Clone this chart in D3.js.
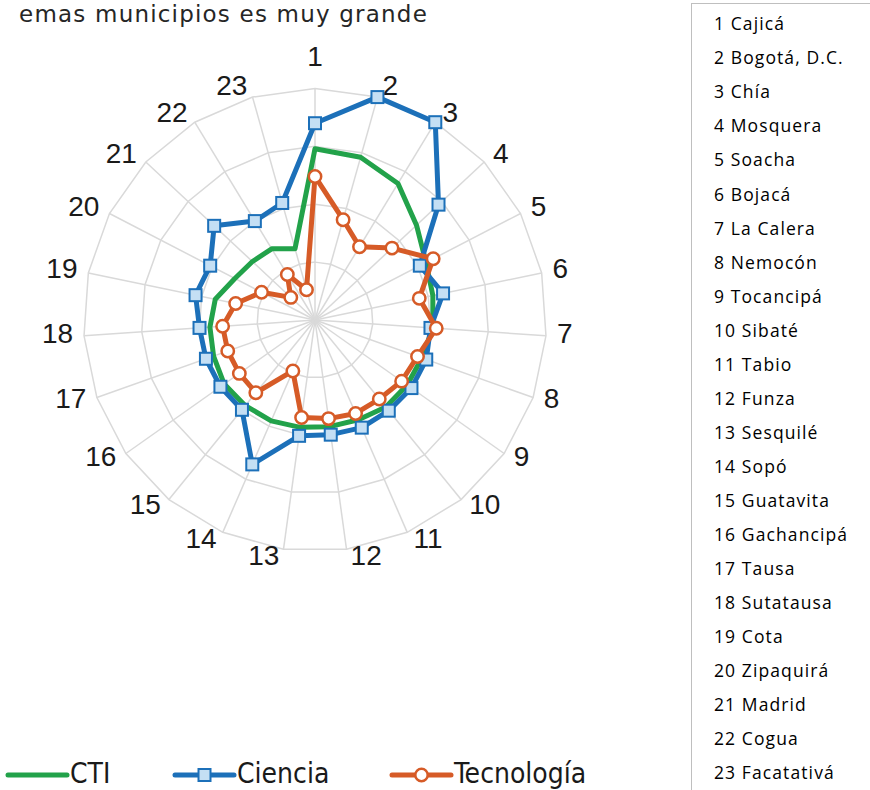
<!DOCTYPE html>
<html>
<head>
<meta charset="utf-8">
<script src="https://cdn.jsdelivr.net/npm/d3@7"></script>
<style>
  html, body { margin: 0; padding: 0; background: #fff; }
  svg { display: block; }
</style>
</head>
<body>
<svg id="chart" width="870" height="790"></svg>
<script>
// ---- data ----
const categories = ["Cajicá", "Bogotá, D.C.", "Chía", "Mosquera", "Soacha", "Bojacá", "La Calera",
  "Nemocón", "Tocancipá", "Sibaté", "Tabio", "Funza", "Sesquilé", "Sopó", "Guatavita",
  "Gachancipá", "Tausa", "Sutatausa", "Cota", "Zipaquirá", "Madrid", "Cogua", "Facatativá"];
const axisLabels = categories.map((d, i) => String(i + 1));
const seriesNames = ["CTI", "Ciencia", "Tecnología"];
const cti = [0.74, 0.73, 0.69, 0.60, 0.54, 0.52, 0.51, 0.49, 0.487, 0.485, 0.47, 0.465,
  0.468, 0.475, 0.477, 0.48, 0.465, 0.455, 0.44, 0.39, 0.37, 0.36, 0.32];
const ciencia = [0.85, 1.0, 1.0, 0.73, 0.51, 0.565, 0.50, 0.51, 0.51, 0.505, 0.507, 0.50,
  0.505, 0.68, 0.50, 0.50, 0.50, 0.50, 0.527, 0.51, 0.596, 0.50, 0.525];
const tecnologia = [0.62, 0.45, 0.37, 0.455, 0.575, 0.46, 0.525, 0.47, 0.458, 0.44, 0.44, 0.43,
  0.425, 0.24, 0.405, 0.40, 0.40, 0.40, 0.35, 0.26, 0.143, 0.23, 0.136];
const ringTicks = [0.25, 0.5, 0.75, 1.0];
const titleText = "emas municipios es muy grande";

// ---- layout ----
const svg = d3.select("#chart");
const cx = 315, cy = 320, R = 231.5;
const n = categories.length;
const r = d3.scaleLinear().domain([0, 1]).range([0, R]);
const angle = d3.scaleLinear().domain([0, n]).range([0, 2 * Math.PI]);
const pt = (i, v) => [cx + r(v) * Math.sin(angle(i)), cy - r(v) * Math.cos(angle(i))];

const colors = { cti: "#22a24a", ciencia: "#1c70b9", tec: "#d65b27", sqFill: "#c4dff4" };
const narrow = "'Liberation Sans Narrow', 'DejaVu Sans Condensed', 'Liberation Sans', sans-serif";

// title (partially visible in the original)
svg.append("text")
  .attr("x", 428).attr("y", 22)
  .attr("text-anchor", "end")
  .attr("font-family", "'DejaVu Sans', sans-serif")
  .attr("font-size", 23)
  .attr("letter-spacing", 1.2)
  .attr("fill", "#262626")
  .text(titleText);

// grid rings (polygons)
const g = svg.append("g");
ringTicks.forEach(t => {
  const pts = d3.range(n).map(i => pt(i, t));
  g.append("polygon")
    .attr("points", pts.map(p => p.join(",")).join(" "))
    .attr("fill", "none").attr("stroke", "#d9d9d9").attr("stroke-width", 1.5);
});
// spokes
d3.range(n).forEach(i => {
  const p = pt(i, 1);
  g.append("line").attr("x1", cx).attr("y1", cy).attr("x2", p[0]).attr("y2", p[1])
    .attr("stroke", "#d9d9d9").attr("stroke-width", 1.5);
});

// axis labels
axisLabels.forEach((lab, i) => {
  const a = angle(i), s = Math.sin(a), c = Math.cos(a);
  const p = pt(i, 1);
  let x, y, anchor;
  if (Math.abs(s) < 0.05) {
    anchor = "middle"; x = p[0]; y = p[1] - 33;
  } else {
    anchor = s > 0 ? "start" : "end";
    x = p[0] + Math.sign(s) * (3 + 8 * Math.abs(s));
    y = p[1] - 3 - 9 * c;
  }
  svg.append("text")
    .attr("x", x).attr("y", y).attr("dy", "0.36em")
    .attr("text-anchor", anchor)
    .attr("font-family", "'Liberation Sans', Arial, sans-serif")
    .attr("font-size", 28)
    .attr("fill", "#1a1a1a")
    .text(lab);
});

// series
const radial = d3.lineRadial()
  .angle((d, i) => angle(i))
  .radius(d => r(d))
  .curve(d3.curveLinearClosed);

function drawSeries(values, color, marker) {
  const sg = svg.append("g").attr("transform", `translate(${cx},${cy})`);
  sg.append("path").attr("d", radial(values))
    .attr("fill", "none").attr("stroke", color).attr("stroke-width", 5)
    .attr("stroke-linejoin", "round");
  if (marker === "square") {
    sg.selectAll("rect").data(values).join("rect")
      .attr("x", (d, i) => pt(i, d)[0] - cx - 6)
      .attr("y", (d, i) => pt(i, d)[1] - cy - 6)
      .attr("width", 12).attr("height", 12)
      .attr("fill", colors.sqFill).attr("stroke", color).attr("stroke-width", 2);
  } else if (marker === "circle") {
    sg.selectAll("circle").data(values).join("circle")
      .attr("cx", (d, i) => pt(i, d)[0] - cx)
      .attr("cy", (d, i) => pt(i, d)[1] - cy)
      .attr("r", 6.2)
      .attr("fill", "#fff").attr("stroke", color).attr("stroke-width", 2.5);
  }
}
drawSeries(cti, colors.cti, null);
drawSeries(ciencia, colors.ciencia, "square");
drawSeries(tecnologia, colors.tec, "circle");

// bottom legend
const legendItems = [
  { name: seriesNames[0], color: colors.cti, marker: null, x: 8 },
  { name: seriesNames[1], color: colors.ciencia, marker: "square", x: 175 },
  { name: seriesNames[2], color: colors.tec, marker: "circle", x: 392 }
];
const ly = 775;
legendItems.forEach(it => {
  const lg = svg.append("g");
  lg.append("line").attr("x1", it.x).attr("x2", it.x + 59).attr("y1", ly).attr("y2", ly)
    .attr("stroke", it.color).attr("stroke-width", 5).attr("stroke-linecap", "round");
  const mx = it.x + 29.5;
  if (it.marker === "square") {
    lg.append("rect").attr("x", mx - 6).attr("y", ly - 6).attr("width", 12).attr("height", 12)
      .attr("fill", colors.sqFill).attr("stroke", it.color).attr("stroke-width", 2);
  } else if (it.marker === "circle") {
    lg.append("circle").attr("cx", mx).attr("cy", ly).attr("r", 6.2)
      .attr("fill", "#fff").attr("stroke", it.color).attr("stroke-width", 2.5);
  }
  lg.append("text").attr("x", it.x + 62).attr("y", 783)
    .attr("font-family", narrow).attr("font-size", 28).attr("fill", "#1a1a1a")
    .text(it.name);
});

// right legend box of municipalities
svg.append("rect").attr("x", 691.5).attr("y", 3.5).attr("width", 200).attr("height", 800)
  .attr("fill", "#fff").attr("stroke", "#bfbfbf").attr("stroke-width", 1);
const rowY = d3.scaleLinear().domain([0, n - 1]).range([24, 773]);
categories.forEach((name, i) => {
  svg.append("text").attr("x", 714).attr("y", rowY(i)).attr("dy", "0.36em")
    .attr("font-family", "'Open Sans', sans-serif").attr("font-size", 17.5)
    .attr("letter-spacing", 1.1)
    .attr("fill", "#000")
    .text(`${i + 1} ${name}`);
});
</script>
</body>
</html>
